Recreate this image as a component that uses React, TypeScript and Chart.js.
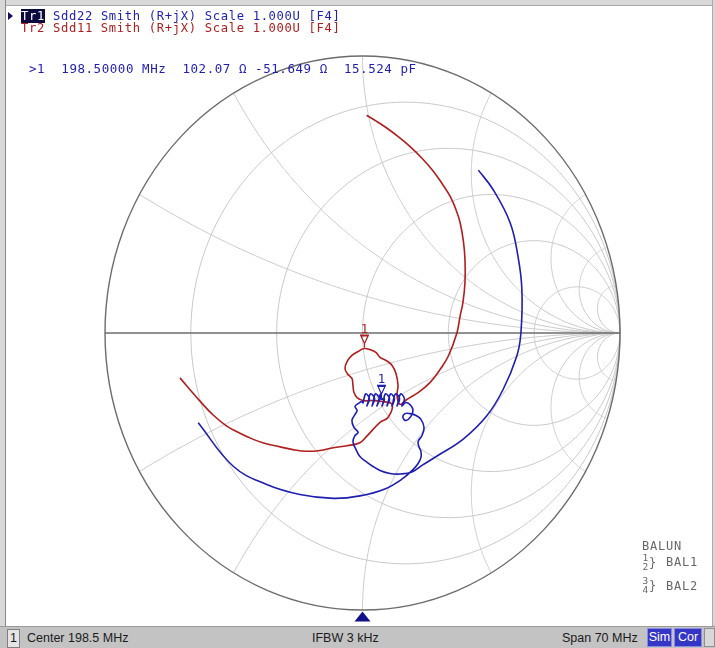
import React, { useEffect, useRef } from "react";
import { Chart, registerables } from "chart.js";

Chart.register(...registerables);

// ---------- grid values (normalized impedance) ----------
const resistanceCircles = [0.2, 0.5, 1, 2, 5];
const reactanceArcs = [0.268, 0.577, 1, 1.732, 3.732, 6.31, 11.43];

// ---------- Tr1 : Sdd22 (reflection coefficient, re / im) ----------
const tr1ArcStart: [number, number][] = [
  [0.450, 0.588], [0.507, 0.518], [0.573, 0.399], [0.604, 0.276], [0.619, 0.157],
  [0.615, -0.002], [0.599, -0.084], [0.546, -0.204], [0.482, -0.300], [0.390, -0.384],
  [0.288, -0.445], [0.231, -0.478],
];
const tr1LoopLeft: [number, number][] = [
  [0.192, -0.502], [0.146, -0.509], [0.107, -0.507], [0.068, -0.496], [0.041, -0.482], [0.014, -0.464],
  [-0.010, -0.446], [-0.025, -0.421], [-0.037, -0.392], [-0.029, -0.370], [-0.017, -0.359],
  [-0.033, -0.341], [-0.041, -0.316], [-0.029, -0.294], [-0.021, -0.280], [-0.029, -0.265],
  [-0.017, -0.255], [-0.002, -0.247],
];
const tr1Coil: [number, number][] = [
  [0.002, -0.252], [0.012, -0.220], [0.027, -0.238], [0.017, -0.263],
  [0.021, -0.252], [0.031, -0.220], [0.047, -0.238], [0.037, -0.263],
  [0.041, -0.252], [0.050, -0.220], [0.066, -0.238], [0.056, -0.263],
  [0.060, -0.252], [0.070, -0.220], [0.071, -0.238], [0.085, -0.238], [0.076, -0.263],
  [0.080, -0.252], [0.089, -0.220], [0.105, -0.238], [0.095, -0.263],
  [0.099, -0.252], [0.109, -0.220], [0.124, -0.238], [0.115, -0.263],
  [0.118, -0.252], [0.128, -0.220], [0.144, -0.238], [0.134, -0.263],
  [0.138, -0.252], [0.148, -0.220], [0.163, -0.238], [0.153, -0.263],
];
const tr1MarkerInCoil = 14; // 198.5 MHz
const tr1LoopRight: [number, number][] = [
  [0.169, -0.251], [0.188, -0.262], [0.196, -0.280], [0.188, -0.301], [0.169, -0.316],
  [0.157, -0.305], [0.165, -0.291], [0.184, -0.291], [0.208, -0.298], [0.227, -0.312],
  [0.239, -0.341], [0.231, -0.370], [0.216, -0.392], [0.219, -0.410], [0.227, -0.428],
  [0.227, -0.449], [0.216, -0.471], [0.196, -0.493],
];
const tr1ArcEnd: [number, number][] = [
  [0.157, -0.525], [0.087, -0.563], [-0.010, -0.588], [-0.113, -0.597], [-0.243, -0.583],
  [-0.372, -0.547], [-0.502, -0.481], [-0.638, -0.324],
];

// ---------- Tr2 : Sdd11 ----------
const tr2ArcStart: [number, number][] = [
  [0.016, 0.786], [0.055, 0.764], [0.094, 0.740], [0.140, 0.708], [0.186, 0.672],
  [0.232, 0.630], [0.275, 0.584], [0.310, 0.538], [0.340, 0.494], [0.362, 0.448],
  [0.379, 0.399], [0.392, 0.330], [0.398, 0.265], [0.398, 0.182], [0.390, 0.110],
  [0.379, 0.061], [0.366, -0.002], [0.333, -0.084], [0.301, -0.132], [0.262, -0.179],
  [0.216, -0.215], [0.172, -0.240], [0.146, -0.258],
];
const tr2Loop: [number, number][] = [
  [0.134, -0.226], [0.138, -0.190], [0.130, -0.146], [0.115, -0.117], [0.091, -0.099],
  [0.068, -0.088], [0.052, -0.070], [0.029, -0.060], [0.006, -0.056], [-0.017, -0.067],
  [-0.041, -0.081], [-0.060, -0.103], [-0.068, -0.128], [-0.056, -0.150], [-0.041, -0.164],
  [-0.037, -0.190], [-0.033, -0.215], [-0.021, -0.233], [0.002, -0.244], [0.037, -0.244],
  [0.076, -0.247], [0.115, -0.258],
];
const tr2MarkerInLoop = 8;
const tr2ArcEnd: [number, number][] = [
  [0.099, -0.305], [0.068, -0.323], [0.016, -0.373], [-0.010, -0.396], [-0.060, -0.407],
  [-0.113, -0.414], [-0.165, -0.424], [-0.217, -0.427], [-0.270, -0.421], [-0.320, -0.411],
  [-0.374, -0.400], [-0.424, -0.384], [-0.476, -0.362], [-0.527, -0.336], [-0.580, -0.296],
  [-0.631, -0.246], [-0.709, -0.162],
];

const tr1Data = [...tr1ArcStart, ...tr1LoopLeft, ...tr1Coil, ...tr1LoopRight, ...tr1ArcEnd];
const tr1Marker = tr1ArcStart.length + tr1LoopLeft.length + tr1MarkerInCoil;
const tr2Data = [...tr2ArcStart, ...tr2Loop, ...tr2ArcEnd];
const tr2Marker = tr2ArcStart.length + tr2MarkerInLoop;

const BLUE = "#1e1eb0";
const RED = "#b01e1e";
const GRID = "#c8c8c8";
const FRAME = "#6c6c6c";

const smithGrid = {
  id: "smithGrid",
  beforeDatasetsDraw(chart: any) {
    const { ctx } = chart;
    const xs = chart.scales.x;
    const ys = chart.scales.y;
    const P = (u: number, v: number) => [xs.getPixelForValue(u), ys.getPixelForValue(v)];
    ctx.save();
    ctx.lineWidth = 1;
    ctx.strokeStyle = GRID;
    for (const r of resistanceCircles) {
      const c = r / (1 + r);
      const rad = 1 / (1 + r);
      ctx.beginPath();
      for (let i = 0; i <= 360; i++) {
        const a = (i * Math.PI) / 180;
        const [px, py] = P(c + rad * Math.cos(a), rad * Math.sin(a));
        if (i === 0) ctx.moveTo(px, py);
        else ctx.lineTo(px, py);
      }
      ctx.stroke();
    }
    for (const xv of reactanceArcs) {
      for (const s of [1, -1]) {
        const X = s * xv;
        ctx.beginPath();
        for (let i = 0; i <= 300; i++) {
          const r = Math.tan((i / 300) * (Math.PI / 2) * 0.9995);
          const d = (r + 1) * (r + 1) + X * X;
          const [px, py] = P((r * r + X * X - 1) / d, (2 * X) / d);
          if (i === 0) ctx.moveTo(px, py);
          else ctx.lineTo(px, py);
        }
        const [ex, ey] = P(1, 0);
        ctx.lineTo(ex, ey);
        ctx.stroke();
      }
    }
    // outer circle and real axis
    const [cx, cy] = P(0, 0);
    const [rx] = P(1, 0);
    const [, ty] = P(0, 1);
    ctx.strokeStyle = FRAME;
    ctx.lineWidth = 1.4;
    ctx.beginPath();
    ctx.ellipse(cx, cy, rx - cx, cy - ty, 0, 0, Math.PI * 2);
    ctx.stroke();
    ctx.lineWidth = 1.6;
    ctx.beginPath();
    const [lx] = P(-1, 0);
    ctx.moveTo(lx, cy);
    ctx.lineTo(rx, cy);
    ctx.stroke();
    ctx.restore();
  },
  afterDatasetsDraw(chart: any) {
    const { ctx } = chart;
    chart.data.datasets.forEach((ds: any, i: number) => {
      const el = chart.getDatasetMeta(i).data[ds.markerIndex];
      if (!el) return;
      const x = Math.round(el.x) + 0.5;
      const y = el.y;
      ctx.save();
      ctx.strokeStyle = ds.borderColor;
      ctx.fillStyle = ds.borderColor;
      ctx.lineWidth = 1.2;
      ctx.beginPath();
      ctx.moveTo(x, y - 1);
      ctx.lineTo(x, y - 5);
      ctx.moveTo(x, y - 5);
      ctx.lineTo(x - 3.5, y - 12.5);
      ctx.lineTo(x + 3.5, y - 12.5);
      ctx.closePath();
      ctx.moveTo(x - 4.5, y - 13.5);
      ctx.lineTo(x + 4.5, y - 13.5);
      ctx.stroke();
      ctx.font = "12.5px 'DejaVu Sans Mono'";
      ctx.textAlign = "center";
      ctx.textBaseline = "alphabetic";
      ctx.fillText("1", x, y - 16);
      ctx.restore();
    });
    // stimulus position indicator below the chart
    const xs = chart.scales.x;
    const ys = chart.scales.y;
    const mx = xs.getPixelForValue(0);
    const by = ys.getPixelForValue(-1);
    ctx.save();
    ctx.fillStyle = "#10108a";
    ctx.beginPath();
    ctx.moveTo(mx, by + 1.5);
    ctx.lineTo(mx + 8, by + 11.5);
    ctx.lineTo(mx - 8, by + 11.5);
    ctx.closePath();
    ctx.fill();
    ctx.restore();
  },
};

const mono = "'DejaVu Sans Mono', monospace";
const sans = "'Liberation Sans', Arial, sans-serif";

export default function App() {
  const canvasRef = useRef<HTMLCanvasElement | null>(null);

  useEffect(() => {
    if (!canvasRef.current) return;
    const chart = new Chart(canvasRef.current, {
      type: "scatter",
      data: {
        datasets: [
          {
            label: "Tr1 Sdd22",
            data: tr1Data.map(([x, y]) => ({ x, y })),
            borderColor: BLUE,
            backgroundColor: BLUE,
            showLine: true,
            pointRadius: 0,
            borderWidth: 1.6,
            tension: 0.4,
            markerIndex: tr1Marker,
          } as any,
          {
            label: "Tr2 Sdd11",
            data: tr2Data.map(([x, y]) => ({ x, y })),
            borderColor: RED,
            backgroundColor: RED,
            showLine: true,
            pointRadius: 0,
            borderWidth: 1.6,
            tension: 0.4,
            markerIndex: tr2Marker,
          } as any,
        ],
      },
      options: {
        responsive: false,
        animation: false,
        events: [],
        layout: { padding: { left: 105, right: 95, top: 56, bottom: 38 } },
        scales: {
          x: { type: "linear", min: -1, max: 1, display: false },
          y: { type: "linear", min: -1, max: 1, display: false },
        },
        plugins: { legend: { display: false }, tooltip: { enabled: false } },
      },
      plugins: [smithGrid],
    });
    return () => chart.destroy();
  }, []);

  const abs = (s: React.CSSProperties): React.CSSProperties => ({ position: "absolute", ...s });
  const hdr: React.CSSProperties = { fontFamily: mono, fontSize: 12.2, letterSpacing: 0.65, lineHeight: "12.6px", whiteSpace: "pre" };
  const bal: React.CSSProperties = { fontFamily: mono, fontSize: 12, letterSpacing: 0.8, lineHeight: "13px", whiteSpace: "pre", color: "#666666" };
  const sub: React.CSSProperties = { fontFamily: mono, fontSize: 9.5, lineHeight: "8px", color: "#666666" };

  return (
    <div style={abs({ left: 0, top: 0, width: 715, height: 648, background: "#ffffff", overflow: "hidden" })}>
      <div style={abs({ left: 0, top: 0, width: 715, height: 5, background: "#d8d8d8", borderBottom: "1px solid #a8a8a8" })} />
      <div style={abs({ left: 0, top: 0, width: 5, height: 648, background: "#d8d8d8", borderRight: "1px solid #8a8a8a" })} />
      <div style={abs({ right: 0, top: 0, width: 2, height: 648, background: "#d8d8d8", borderLeft: "1px solid #a8a8a8" })} />
      <canvas ref={canvasRef} width={715} height={648} style={abs({ left: 0, top: 0 })} />

      {/* trace header */}
      <div style={abs({ left: 8, top: 12, width: 0, height: 0, borderLeft: "5px solid #10106a", borderTop: "4.5px solid transparent", borderBottom: "4.5px solid transparent" })} />
      <div style={abs({ left: 21, top: 9.8, ...hdr, color: BLUE })}>
        <span style={{ background: "#0a0a40", color: "#ffffff" }}>Tr1</span> Sdd22 Smith (R+jX) Scale 1.000U [F4]
      </div>
      <div style={abs({ left: 21, top: 22.4, ...hdr, color: RED })}>
        Tr2 Sdd11 Smith (R+jX) Scale 1.000U [F4]
      </div>

      {/* marker readout */}
      <div style={abs({ left: 29, top: 60.5, fontFamily: mono, fontSize: 12.5, letterSpacing: 0.55, lineHeight: "15px", whiteSpace: "pre", color: BLUE })}>
        {">1  198.50000 MHz  102.07 Ω -51.649 Ω  15.524 pF"}
      </div>

      {/* balun legend */}
      <div style={abs({ left: 642, top: 539.5, ...bal })}>BALUN</div>
      <div style={abs({ left: 642.5, top: 554, ...sub })}>1</div>
      <div style={abs({ left: 642.5, top: 562.5, ...sub })}>2</div>
      <div style={abs({ left: 649, top: 555.5, ...bal, fontSize: 12, lineHeight: "14px" })}>{"}"}</div>
      <div style={abs({ left: 666, top: 556, ...bal })}>BAL1</div>
      <div style={abs({ left: 642.5, top: 577, ...sub })}>3</div>
      <div style={abs({ left: 642.5, top: 585.5, ...sub })}>4</div>
      <div style={abs({ left: 649, top: 578.5, ...bal, fontSize: 12, lineHeight: "14px" })}>{"}"}</div>
      <div style={abs({ left: 666, top: 579.5, ...bal })}>BAL2</div>

      {/* status bar */}
      <div style={abs({ left: 0, top: 626, width: 715, height: 22, background: "#c3c3c3", borderTop: "1px solid #9a9a9a", fontFamily: sans, fontSize: 12.5, color: "#1a1a1a" })}>
        <div style={abs({ left: 7, top: 2, width: 11, height: 17, background: "#e4e4e4", border: "1px solid #808080", textAlign: "center", lineHeight: "17px" })}>1</div>
        <div style={abs({ left: 27, top: 2, lineHeight: "18px", whiteSpace: "pre" })}>Center 198.5 MHz</div>
        <div style={abs({ left: 312, top: 2, lineHeight: "18px", whiteSpace: "pre" })}>IFBW 3 kHz</div>
        <div style={abs({ left: 562, top: 2, lineHeight: "18px", whiteSpace: "pre" })}>Span 70 MHz</div>
        <div style={abs({ left: 647, top: 1, width: 25, height: 19, background: "#3636c6", color: "#ffffff", border: "1px solid #8a8ae0", textAlign: "center", lineHeight: "17px", boxSizing: "border-box" })}>Sim</div>
        <div style={abs({ left: 674, top: 1, width: 28, height: 19, background: "#3636c6", color: "#ffffff", border: "1px solid #8a8ae0", textAlign: "center", lineHeight: "17px", boxSizing: "border-box" })}>Cor</div>
        <div style={abs({ left: 704, top: 1, width: 11, height: 19, background: "#d8d8d8", border: "1px solid #909090", boxSizing: "border-box" })} />
      </div>
    </div>
  );
}
